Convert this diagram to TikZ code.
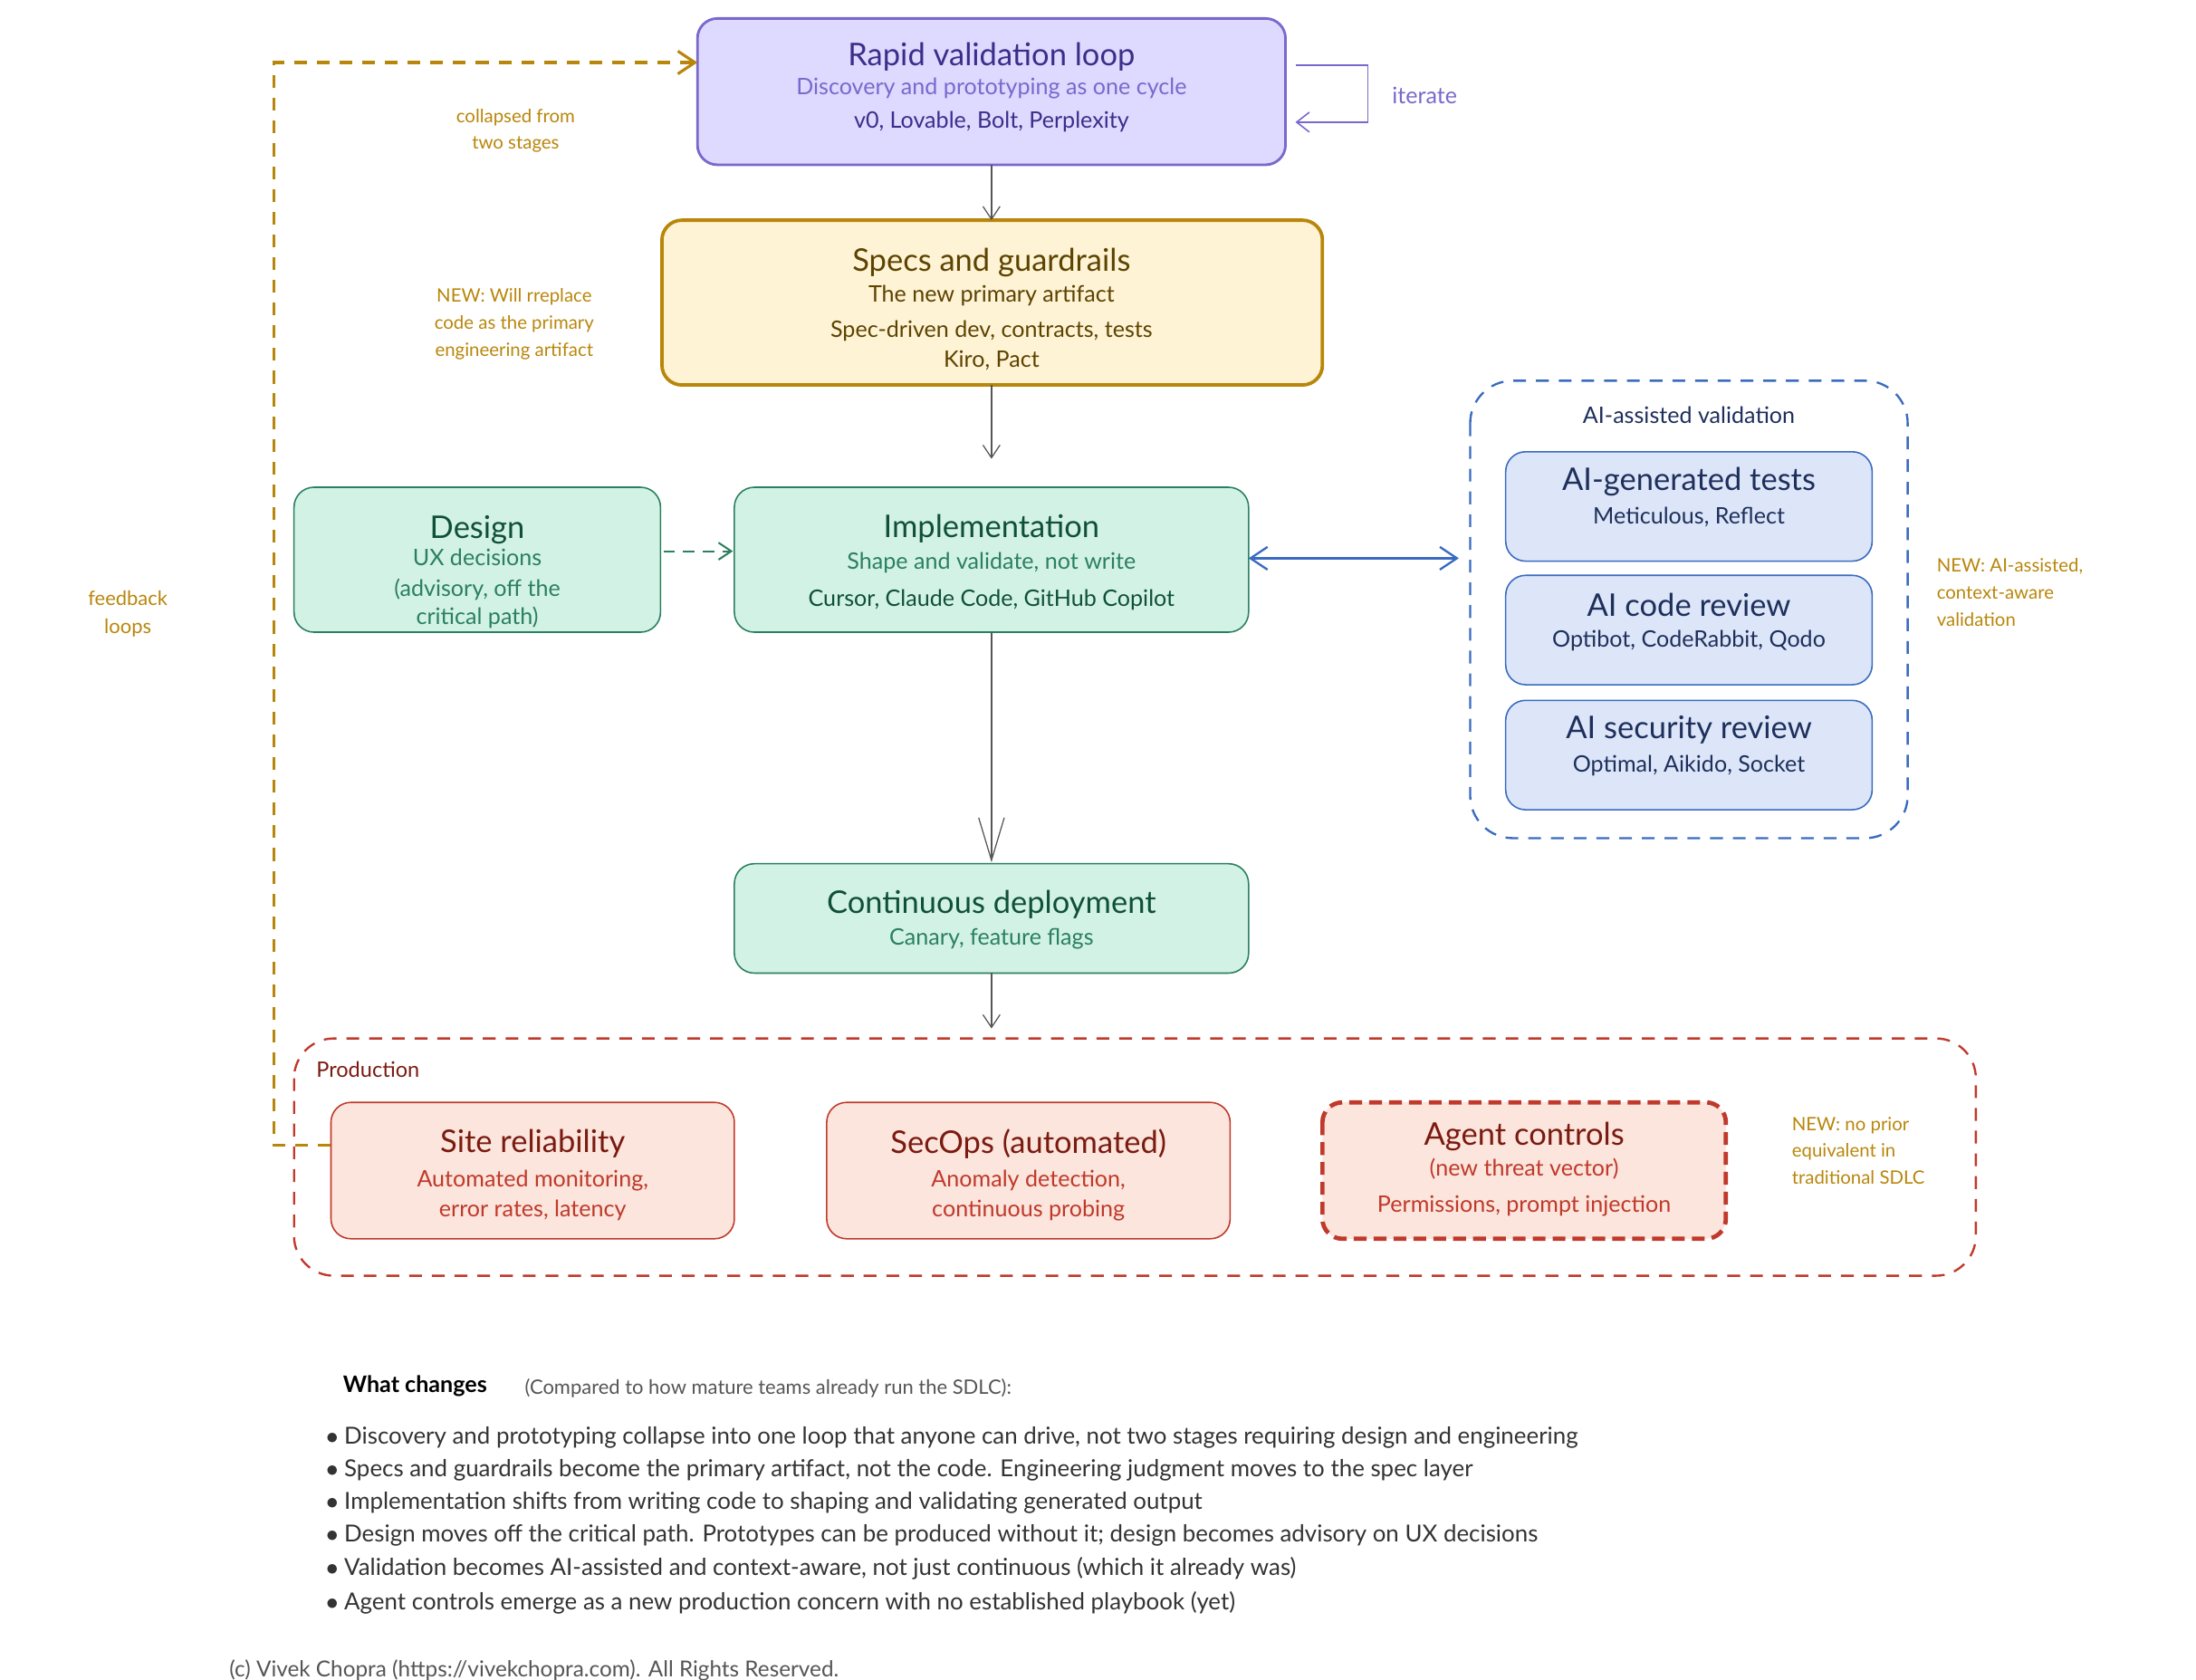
\documentclass[tikz,border=0pt]{standalone}
\usepackage{fontspec}
\setmainfont{Lato}
\usetikzlibrary{arrows.meta}
\definecolor{lavf}{HTML}{DDD9FF}\definecolor{lavd}{HTML}{7A68CC}\definecolor{lavt}{HTML}{3B2E8A}
\definecolor{goldf}{HTML}{FFF3D6}\definecolor{goldd}{HTML}{B8860B}\definecolor{goldt}{HTML}{5C4300}
\definecolor{grnf}{HTML}{D3F2E6}\definecolor{grnd}{HTML}{2A8060}\definecolor{grnt}{HTML}{0F5136}
\definecolor{bluf}{HTML}{DCE6F8}\definecolor{blud}{HTML}{3A6BC0}\definecolor{blut}{HTML}{1E2F5C}
\definecolor{redf}{HTML}{FBE5DC}\definecolor{redd}{HTML}{C0392B}\definecolor{redt}{HTML}{7A1A10}
\definecolor{gr}{HTML}{555555}
\tikzset{
 box/.style={rounded corners=14pt,line width=1pt},
 ti/.style={font=\fontsize{22}{24}\selectfont,anchor=center},
 sub/.style={font=\fontsize{16}{18}\selectfont,anchor=center},
 note/.style={font=\fontsize{13}{19}\selectfont,align=center,text=goldd},
 ar/.style={-{Straight Barb[length=9pt,width=12pt]},gr,line width=0.8pt},
}
\begin{document}
\begin{tikzpicture}[x=1pt,y=-1pt]
\useasboundingbox (0,0) rectangle (1546,1182);
% rapid
\draw[box,fill=lavf,draw=lavd,line width=1.8pt] (491,13) rectangle (905,116);
\node[ti,text=lavt] at (698,40) {Rapid validation loop};
\node[sub,text=lavd] at (698,62) {Discovery and prototyping as one cycle};
\node[sub,text=lavt] at (698,86) {v0, Lovable, Bolt, Perplexity};
\coordinate (it1) at (912,46);\coordinate (it2) at (912,86);
\draw[-{Straight Barb[length=9pt,width=14pt]},lavd,line width=1pt] (it1) -- (963,46) -- (963,86) -- (it2);
\node[sub,text=lavd] at (1003,67) {iterate};
% specs
\draw[box,fill=goldf,draw=goldd,line width=2.4pt] (466,155) rectangle (931,271);
\node[ti,text=goldt] at (698,185) {Specs and guardrails};
\node[sub,text=goldt] at (698,208) {The new primary artifact};
\node[sub,text=goldt] at (698,233) {Spec-driven dev, contracts, tests};
\node[sub,text=goldt] at (698,254) {Kiro, Pact};
\coordinate (ra) at (698,116);\coordinate (sa) at (698,155);
\draw[ar] (ra) -- (sa);
\coordinate (sb) at (698,271);\coordinate (ia) at (698,323);
\draw[ar] (sb) -- (ia);
% design
\draw[box,fill=grnf,draw=grnd] (207,343) rectangle (465,445);
\node[ti,text=grnt] at (336,373) {Design};
\node[sub,text=grnd] at (336,392) {UX decisions};
\node[sub,text=grnd] at (336,415) {(advisory, off the};
\node[sub,text=grnd] at (336,435) {critical path)};
% impl
\draw[box,fill=grnf,draw=grnd] (517,343) rectangle (879,445);
\node[ti,text=grnt] at (698,372) {Implementation};
\node[sub,text=grnd] at (698,396) {Shape and validate, not write};
\node[sub,text=grnt] at (698,422) {Cursor, Claude Code, GitHub Copilot};
\coordinate (da) at (467,388);\coordinate (ib) at (516,388);
\draw[-{Straight Barb[length=9pt,width=12pt]},grnd,line width=1.3pt,dash pattern=on 8pt off 6pt] (da) -- (ib);
% cd
\draw[box,fill=grnf,draw=grnd] (517,608) rectangle (879,685);
\node[ti,text=grnt] at (698,637) {Continuous deployment};
\node[sub,text=grnd] at (698,661) {Canary, feature flags};
\coordinate (ic) at (698,445);\coordinate (ca) at (698,607);
\draw[-{Straight Barb[length=30pt,width=18pt]},gr,line width=0.8pt] (ic) -- (ca);
\coordinate (cb) at (698,685);\coordinate (pa) at (698,724);
\draw[ar] (cb) -- (pa);
% production
\draw[rounded corners=28pt,redd,line width=1.5pt,dash pattern=on 9pt off 7pt] (207,731) rectangle (1391,898);
\node[font=\fontsize{15}{17}\selectfont,text=redt] at (259,753) {Production};
\draw[box,fill=redf,draw=redd] (233,776) rectangle (517,872);
\node[ti,text=redt] at (375,805) {Site reliability};
\node[sub,text=redd] at (375,831) {Automated monitoring,};
\node[sub,text=redd] at (375,852) {error rates, latency};
\draw[box,fill=redf,draw=redd] (582,776) rectangle (866,872);
\node[ti,text=redt] at (724,805) {SecOps (automated)};
\node[sub,text=redd] at (724,831) {Anomaly detection,};
\node[sub,text=redd] at (724,852) {continuous probing};
\draw[box,fill=redf,draw=redd,line width=3pt,dash pattern=on 9pt off 5pt] (931,776) rectangle (1215,872);
\node[ti,text=redt] at (1073,800) {Agent controls};
\node[sub,text=redd] at (1073,823) {(new threat vector)};
\node[sub,text=redd] at (1073,849) {Permissions, prompt injection};
\node[note,align=left,anchor=west] at (1258,810) {NEW: no prior\\equivalent in\\traditional SDLC};
% AI validation
\draw[rounded corners=30pt,blud,line width=1.5pt,dash pattern=on 9pt off 7pt] (1035,268) rectangle (1343,590);
\node[sub,text=blut] at (1189,292) {AI-assisted validation};
\foreach \y/\a/\b in {318/AI-generated tests/{Meticulous, Reflect},405/AI code review/{Optibot, CodeRabbit, Qodo},493/AI security review/{Optimal, Aikido, Socket}}{
 \draw[box,fill=bluf,draw=blud] (1060,\y) rectangle ++(258,77);
 \node[ti,text=blut] at (1189,\y+21) {\a};
 \node[sub,text=blut] at (1189,\y+46) {\b};}
\coordinate (ir) at (879,393);\coordinate (vl) at (1027,393);
\draw[{Straight Barb[length=12pt,width=16pt]}-{Straight Barb[length=12pt,width=16pt]},blud,line width=1.5pt] (ir) -- (vl);
\node[note,align=left,anchor=west] at (1360,417) {NEW: AI-assisted,\\context-aware\\validation};
% feedback
\coordinate (sr) at (233,806);\coordinate (rl) at (491,44);
\draw[-{Straight Barb[length=12pt,width=16pt]},goldd,line width=2pt,dash pattern=on 9pt off 7pt] (sr) -- (193,806) -- (193,44) -- (rl);
\node[note,font=\fontsize{14}{20}\selectfont] at (90,432) {feedback\\loops};
\node[note] at (363,92) {collapsed from\\two stages};
\node[note] at (362,228) {NEW: Will rreplace\\code as the primary\\engineering artifact};
% bottom text
\node[anchor=west,font=\bfseries\fontsize{16}{18}\selectfont] at (238,976) {What changes};
\node[anchor=west,font=\fontsize{14}{16}\selectfont,text=gr] at (366,977) {(Compared to how mature teams already run the SDLC):};
\foreach \y/\t in {1012/{Discovery and prototyping collapse into one loop that anyone can drive, not two stages requiring design and engineering},
1035/{Specs and guardrails become the primary artifact, not the code. Engineering judgment moves to the spec layer},
1058/{Implementation shifts from writing code to shaping and validating generated output},
1081/{Design moves off the critical path. Prototypes can be produced without it; design becomes advisory on UX decisions},
1104/{Validation becomes AI-assisted and context-aware, not just continuous (which it already was)},
1128/{Agent controls emerge as a new production concern with no established playbook (yet)}}{
 \node[anchor=west,font=\fontsize{16.5}{18}\selectfont,text=black!80] at (226,\y) {$\bullet$ \t};}
\node[anchor=west,font=\fontsize{15.5}{17}\selectfont,text=gr] at (158,1176) {(c) Vivek Chopra (https://vivekchopra.com). All Rights Reserved.};
\end{tikzpicture}
\end{document}
